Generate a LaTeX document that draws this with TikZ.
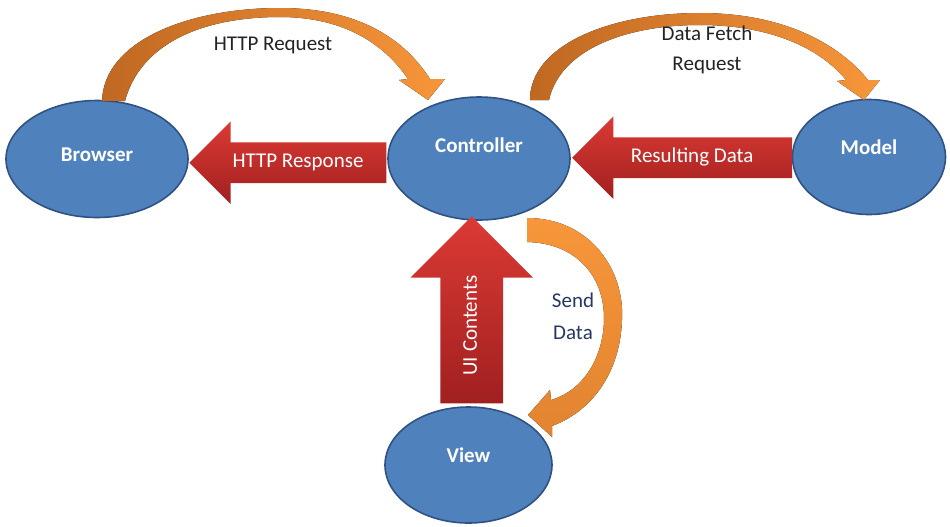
\documentclass[tikz,border=0pt]{standalone}
\usepackage{fontspec}
\setmainfont{Carlito}
\usetikzlibrary{shapes.geometric,shapes.arrows,calc}

\begin{document}
\begin{tikzpicture}[x=0.5pt,y=-0.5pt,
    elipse/.style={ellipse,draw=bborde,fill=bazul,line width=0.8pt,inner sep=0pt},
    etiq/.style={text=white,font=\bfseries\fontsize{10.5}{12}\selectfont},
    flecha/.style={single arrow,single arrow head extend=#1,top color=rclaro,bottom color=roscuro,
        text=white,font=\fontsize{10.5}{12}\selectfont,text height=7pt,text depth=2pt,inner xsep=2pt},
    curva/.style={left color=nosc,right color=nclaro},
    texto/.style={text=gris,font=\fontsize{10.5}{15}\selectfont,align=center}]
        %colores
        \definecolor{bazul}{RGB}{79,129,189}
        \definecolor{bborde}{RGB}{47,82,130}
        \definecolor{rclaro}{RGB}{220,58,52}
        \definecolor{roscuro}{RGB}{160,32,32}
        \definecolor{nclaro}{RGB}{247,150,58}
        \definecolor{nosc}{RGB}{192,104,34}
        \definecolor{gris}{RGB}{35,35,35}
        \definecolor{azulosc}{RGB}{38,55,100}

        \useasboundingbox (0,0) rectangle (950,526);

        % Elipses
        \node[elipse,minimum width=91pt,minimum height=58.5pt] (browser) at (97,159) {};
        \node[elipse,minimum width=91pt,minimum height=61.5pt] (controller) at (479,158.5) {};
        \node[elipse,minimum width=76.5pt,minimum height=57.5pt] (model) at (869,157) {};
        \node[elipse,minimum width=83.5pt,minimum height=58pt] (view) at (468.5,465) {};
        \node[etiq] (browser-t) at ([yshift=2pt]browser.center) {Browser};
        \node[etiq] (controller-t) at ([yshift=6.5pt]controller.center) {Controller};
        \node[etiq] (model-t) at ([yshift=5pt]model.center) {Model};
        \node[etiq] (view-t) at ([yshift=5pt]view.center) {View};

        % Flechas rojas
        \node[flecha=10.5pt,shape border rotate=180,minimum width=41pt,minimum height=98.5pt,inner ysep=5.5pt]
            (response) at ([xshift=5pt,yshift=-2pt]$(browser.east)!.5!(controller.west)$) {HTTP Response};
        \node[flecha=10.5pt,shape border rotate=180,minimum width=41pt,minimum height=110pt,inner ysep=5.5pt]
            (resulting) at ([xshift=5.5pt]$(controller.east)!.5!(model.west)$) {Resulting Data};
        \node[flecha=15pt,rotate=90,minimum width=61pt,minimum height=93.5pt,inner ysep=11pt]
            (contents) at ([xshift=-1pt,yshift=-6pt]$(controller.south)!.5!(view.north)$) {UI Contents};

        % Flechas curvas
        \fill[curva] (102,101) .. controls (104,40) and (190,8) .. (280,8)
            .. controls (360,8) and (405,40) .. (430,79) -- (445,79) -- (428,100) -- (399,80) -- (408,79)
            .. controls (385,45) and (345,17) .. (280,17) .. controls (200,17) and (140,45) .. (125,101) -- cycle;
        \fill[curva] (530,100) .. controls (530,45) and (610,13) .. (700,13)
            .. controls (785,13) and (840,45) .. (868,80) -- (880,80) -- (864,100) -- (837,81) -- (846,80)
            .. controls (820,48) and (770,25) .. (700,25) .. controls (625,25) and (560,50) .. (549,100) -- cycle;
        \fill[top color=nclaro,bottom color=nosc!40!nclaro] (527,218) .. controls (590,218) and (625,270) .. (622,320)
            .. controls (620,375) and (590,412) .. (552,426) -- (552,437) -- (528,415) -- (550,390) -- (551,400)
            .. controls (585,390) and (604,355) .. (604,318) .. controls (604,275) and (575,243) .. (527,242) -- cycle;

        % Textos
        \node[texto] (request-t) at (273,45) {HTTP Request};
        \node[texto] (fetch-t) at (707,50) {Data Fetch\\Request};
        \node[texto,text=azulosc] (send-t) at (573,316) {Send\\[1pt]Data};
\end{tikzpicture}
\end{document}
